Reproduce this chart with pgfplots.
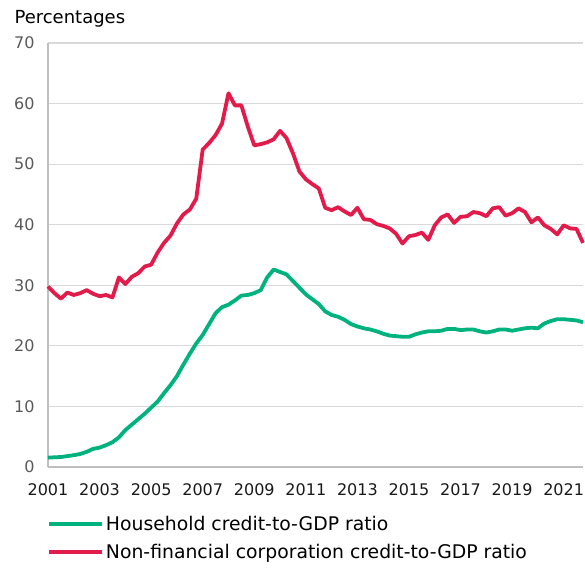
\documentclass[border=0pt]{standalone}
\usepackage{fontspec}
\setmainfont{DejaVu Sans}
\usepackage{pgfplots}
\usepackage{pgfplotstable}
\pgfplotsset{compat=1.18}
\definecolor{hhgreen}{RGB}{0,178,125}
\definecolor{nfcred}{RGB}{227,27,75}
\definecolor{gridgray}{RGB}{217,217,217}
\definecolor{axgray}{RGB}{191,191,191}
\definecolor{ticktext}{RGB}{89,89,89}
\pgfplotstableread{
x hh nfc
2001.00 1.55 29.8
2001.25 1.6 28.7
2001.50 1.65 27.8
2001.75 1.8 28.8
2002.00 1.95 28.4
2002.25 2.15 28.7
2002.50 2.5 29.2
2002.75 3.0 28.6
2003.00 3.2 28.2
2003.25 3.6 28.4
2003.50 4.1 28.0
2003.75 4.9 31.3
2004.00 6.1 30.2
2004.25 7.0 31.4
2004.50 7.9 32.0
2004.75 8.8 33.1
2005.00 9.8 33.4
2005.25 10.8 35.4
2005.50 12.2 37.0
2005.75 13.5 38.2
2006.00 15.0 40.2
2006.25 16.9 41.7
2006.50 18.7 42.5
2006.75 20.4 44.3
2007.00 21.8 52.4
2007.25 23.6 53.5
2007.50 25.4 54.8
2007.75 26.4 56.7
2008.00 26.8 61.7
2008.25 27.5 59.7
2008.50 28.3 59.7
2008.75 28.4 56.2
2009.00 28.7 53.1
2009.25 29.2 53.3
2009.50 31.3 53.6
2009.75 32.6 54.1
2010.00 32.2 55.5
2010.25 31.8 54.3
2010.50 30.7 51.8
2010.75 29.6 48.8
2011.00 28.5 47.5
2011.25 27.7 46.7
2011.50 26.9 46.0
2011.75 25.7 42.8
2012.00 25.1 42.4
2012.25 24.8 42.9
2012.50 24.3 42.2
2012.75 23.6 41.6
2013.00 23.2 42.8
2013.25 22.9 40.9
2013.50 22.7 40.8
2013.75 22.4 40.1
2014.00 22.0 39.8
2014.25 21.7 39.4
2014.50 21.6 38.5
2014.75 21.5 36.9
2015.00 21.5 38.1
2015.25 21.9 38.3
2015.50 22.2 38.7
2015.75 22.4 37.5
2016.00 22.4 39.9
2016.25 22.5 41.2
2016.50 22.8 41.7
2016.75 22.8 40.3
2017.00 22.6 41.3
2017.25 22.7 41.4
2017.50 22.7 42.1
2017.75 22.4 41.9
2018.00 22.2 41.4
2018.25 22.4 42.7
2018.50 22.7 42.9
2018.75 22.7 41.5
2019.00 22.5 41.9
2019.25 22.7 42.7
2019.50 22.9 42.1
2019.75 23.0 40.4
2020.00 22.9 41.2
2020.25 23.7 39.9
2020.50 24.1 39.3
2020.75 24.4 38.4
2021.00 24.4 39.9
2021.25 24.3 39.4
2021.50 24.2 39.3
2021.75 23.9 37.0
}\datatable
\begin{document}
\begin{tikzpicture}
\useasboundingbox (-48pt,-101pt) rectangle (537pt,467pt);
\begin{axis}[
  scale only axis,
  width=535pt, height=424pt,
  xmin=2001, xmax=2021.75, ymin=0, ymax=70,
  xtick={2001,2003,...,2021},
  ytick={0,10,...,70},
  /pgf/number format/assume math mode=true,
  /pgf/number format/1000 sep={},
  xticklabel style={font=\fontsize{16}{19}\selectfont, text=black!90, yshift=-13pt},
  yticklabel style={font=\fontsize{16}{19}\selectfont, text=ticktext, xshift=-10pt},
  ymajorgrids,
  grid style={line width=1.2pt, color=gridgray},
  axis x line*=bottom, axis y line*=left,
  axis line style={line width=1.8pt, color=axgray, -},
  major tick length=0pt,
  clip=false,
  legend style={draw=none, fill=none, at={(rel axis cs:0,0)}, anchor=north west,
    xshift=-1pt, yshift=-47pt, font=\fontsize{18.8}{22}\selectfont,
    row sep=8pt, inner sep=0pt,
    /tikz/every even column/.append style={column sep=5pt}},
  legend cell align=left,
  legend image code/.code={\draw[#1] (0pt,0pt) -- (53pt,0pt);},
]
\addplot[hhgreen, line width=3.8pt, line join=round] table[x=x, y=hh] {\datatable};
\addlegendentry{Household credit-to-GDP ratio}
\addplot[nfcred, line width=3.8pt, line join=round] table[x=x, y=nfc] {\datatable};
\addlegendentry{Non-financial corporation credit-to-GDP ratio}
\node[anchor=base west, font=\fontsize{18}{21}\selectfont, xshift=-37pt, yshift=19.5pt] at (rel axis cs:0,1) {Percentages};
\end{axis}
\end{tikzpicture}
\end{document}
